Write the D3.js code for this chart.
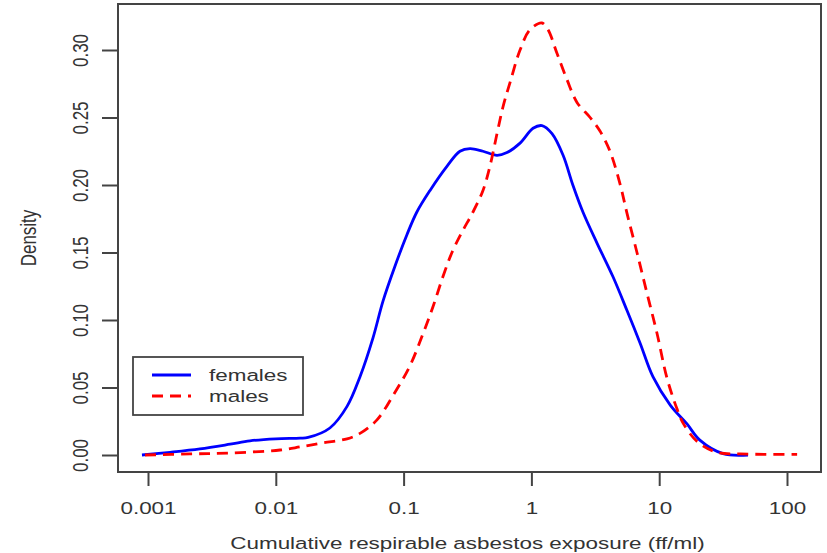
<!DOCTYPE html>
<html>
<head>
<meta charset="utf-8">
<script src="https://cdn.jsdelivr.net/npm/d3@7"></script>
<style>
  html, body { margin: 0; padding: 0; background: #fff; }
  svg { display: block; }
  text { font-family: "Liberation Sans", Arial, sans-serif; fill: #333; }
</style>
</head>
<body>
<svg id="chart" width="827" height="553"></svg>
<script>
// Kernel density of cumulative respirable asbestos exposure (ff/ml), by sex
const femalesExposure = [0.000897, 0.00149, 0.00255, 0.00439, 0.00628, 0.0100, 0.0155, 0.0179,
  0.0265, 0.0361, 0.0456, 0.0577, 0.0690, 0.0857, 0.106, 0.127, 0.161, 0.219, 0.276, 0.331,
  0.418, 0.538, 0.644, 0.815, 1.03, 1.21, 1.45, 1.77, 2.11, 2.53, 3.26, 4.35, 5.60, 7.08,
  8.93, 12.2, 16.5, 20.8, 31.6, 49.5];
const femalesDensity = [0, 0.002, 0.0045, 0.008, 0.0105, 0.012, 0.0125, 0.013,
  0.020, 0.036, 0.058, 0.087, 0.114, 0.140, 0.163, 0.180, 0.196, 0.214, 0.225, 0.227,
  0.225, 0.222, 0.224, 0.231, 0.242, 0.244, 0.238, 0.222, 0.200, 0.180, 0.157, 0.132, 0.107, 0.083,
  0.058, 0.037, 0.023, 0.011, 0.001, 0];

const malesExposure = [0.000948, 0.00213, 0.00439, 0.0108, 0.0155, 0.0234, 0.0361, 0.0456,
  0.0619, 0.0826, 0.112, 0.142, 0.170, 0.203, 0.239, 0.286, 0.349, 0.418, 0.474, 0.538,
  0.600, 0.681, 0.815, 0.975, 1.21, 1.35, 1.58, 1.90, 2.28, 2.88, 3.44, 4.12, 4.93, 5.60,
  6.70, 8.02, 9.62, 11.5, 13.8, 15.3, 19.8, 28.3, 42.9, 120];
const malesDensity = [0, 0.0008, 0.0015, 0.0037, 0.006, 0.009, 0.012, 0.016,
  0.026, 0.044, 0.066, 0.090, 0.110, 0.132, 0.150, 0.165, 0.180, 0.196, 0.214, 0.238,
  0.258, 0.276, 0.300, 0.315, 0.320, 0.315, 0.298, 0.278, 0.261, 0.250, 0.240, 0.225, 0.201, 0.179,
  0.150, 0.120, 0.090, 0.057, 0.034, 0.024, 0.010, 0.002, 0.0008, 0.0005];

const xTicks = [0.001, 0.01, 0.1, 1, 10, 100];
const xTickLabels = ["0.001", "0.01", "0.1", "1", "10", "100"];
const yTicks = [0, 0.05, 0.10, 0.15, 0.20, 0.25, 0.30];
const seriesNames = ["females", "males"];

// horizontal stretch applied to glyphs
const SX = 1.32;

const svg = d3.select("#chart");
const box = { left: 118, right: 821, top: 4, bottom: 472 };

const x = d3.scaleLog().domain([0.001, 100]).range([148, 787]);
const y = d3.scaleLinear().domain([0, 0.30]).range([455, 50]);

const line = d3.line()
  .x(d => x(d[0]))
  .y(d => y(d[1]))
  .curve(d3.curveCatmullRom.alpha(0.5));

const females = femalesExposure.map((v, i) => [v, femalesDensity[i]]);
const males = malesExposure.map((v, i) => [v, malesDensity[i]]);

// curves
svg.append("path")
  .attr("d", line(females))
  .attr("fill", "none")
  .attr("stroke", "#0000ff")
  .attr("stroke-width", 2.8)
  .attr("stroke-linejoin", "round");

svg.append("path")
  .attr("d", line(males))
  .attr("fill", "none")
  .attr("stroke", "#ff0000")
  .attr("stroke-width", 2.8)
  .attr("stroke-dasharray", "11,7");

// frame
svg.append("rect")
  .attr("x", box.left).attr("y", box.top)
  .attr("width", box.right - box.left).attr("height", box.bottom - box.top)
  .attr("fill", "none").attr("stroke", "#444").attr("stroke-width", 2);

// x axis
const xAxis = svg.append("g")
  .attr("transform", `translate(0,${box.bottom})`)
  .call(d3.axisBottom(x).tickValues(xTicks).tickFormat((d, i) => xTickLabels[i]).tickSize(14).tickSizeOuter(0));
xAxis.select(".domain").remove();
xAxis.selectAll(".tick line").attr("stroke", "#444").attr("stroke-width", 2);
xAxis.selectAll(".tick text")
  .attr("y", 0).attr("dy", null)
  .attr("dominant-baseline", "central")
  .attr("transform", `translate(0,36) scale(${SX},1)`)
  .style("font-size", "17px")
  .style("font-family", "'Liberation Sans', Arial, sans-serif")
  .attr("fill", "#333");

// y axis
const yAxis = svg.append("g")
  .attr("transform", `translate(${box.left},0)`)
  .call(d3.axisLeft(y).tickValues(yTicks).tickFormat(d3.format(".2f")).tickSize(16).tickSizeOuter(0));
yAxis.select(".domain").remove();
yAxis.selectAll(".tick line").attr("stroke", "#444").attr("stroke-width", 2);
yAxis.selectAll(".tick text")
  .attr("x", 0).attr("dy", null)
  .attr("text-anchor", "middle")
  .attr("dominant-baseline", "central")
  .attr("transform", `translate(-38,0) scale(${SX},1) rotate(-90)`)
  .style("font-size", "17px")
  .style("font-family", "'Liberation Sans', Arial, sans-serif")
  .attr("fill", "#333");

// axis titles
svg.append("text")
  .attr("text-anchor", "middle")
  .attr("dominant-baseline", "central")
  .attr("transform", `translate(${(148 + 787) / 2},543) scale(${SX},1)`)
  .style("font-size", "17px")
  .text("Cumulative respirable asbestos exposure (ff/ml)");

svg.append("text")
  .attr("text-anchor", "middle")
  .attr("dominant-baseline", "central")
  .attr("transform", `translate(28,${(box.top + box.bottom) / 2}) scale(${SX},1) rotate(-90)`)
  .style("font-size", "17px")
  .text("Density");

// legend
const legend = svg.append("g");
legend.append("rect")
  .attr("x", 133).attr("y", 357).attr("width", 170).attr("height", 58)
  .attr("fill", "#fff").attr("stroke", "#444").attr("stroke-width", 1.8);

const legendColors = ["#0000ff", "#ff0000"];
const legendDash = [null, "11,7"];
seriesNames.forEach((name, i) => {
  const ly = 375 + i * 21;
  legend.append("line")
    .attr("x1", 152).attr("x2", 191).attr("y1", ly).attr("y2", ly)
    .attr("stroke", legendColors[i]).attr("stroke-width", 2.8)
    .attr("stroke-dasharray", legendDash[i]);
  legend.append("text")
    .attr("dominant-baseline", "central")
    .attr("transform", `translate(209,${ly}) scale(${SX},1)`)
    .style("font-size", "17px")
    .text(name);
});
</script>
</body>
</html>
